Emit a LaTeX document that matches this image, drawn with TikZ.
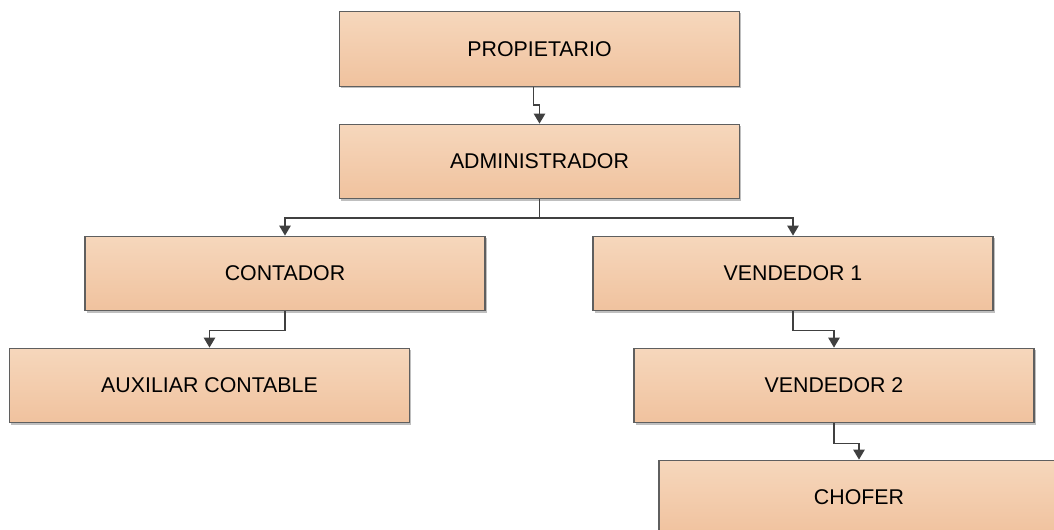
\documentclass[tikz,border=0pt]{standalone}
\usepackage{fontspec}
\setmainfont{Liberation Sans}
\usetikzlibrary{arrows.meta,shadows}

\definecolor{cajaarriba}{RGB}{246,215,188}
\definecolor{cajaabajo}{RGB}{240,194,158}
\definecolor{borde}{RGB}{95,95,95}
\definecolor{linea}{RGB}{64,64,64}

\tikzset{
  cargo/.style={draw=borde, line width=0.8pt, top color=cajaarriba, bottom color=cajaabajo,
    minimum width=300pt, minimum height=56pt, inner sep=0pt,
    font=\fontsize{16}{18}\selectfont,
    drop shadow={shadow xshift=1.3pt, shadow yshift=-1.3pt, fill=black, opacity=0.25}},
  enlace/.style={draw=linea, line width=1.2pt, -{Triangle[width=8.5pt,length=7.5pt]}}
}

\begin{document}
\begin{tikzpicture}[x=0.75pt,y=-0.75pt]

      % Marco de la figura
      \useasboundingbox (0,0) rectangle (1054,529);
      \clip (0,0) rectangle (1054,529);

      % Cargos
      \node[cargo] (prop)   at (539.5,49)    {PROPIETARIO};
      \node[cargo] (admin)  at (539.5,161.5) {ADMINISTRADOR};
      \node[cargo] (cont)   at (285,273.5)   {CONTADOR};
      \node[cargo] (vend1)  at (793,273.5)   {VENDEDOR 1};
      \node[cargo] (aux)    at (209.5,385.5) {AUXILIAR CONTABLE};
      \node[cargo] (vend2)  at (834,385.5)   {VENDEDOR 2};
      \node[cargo] (chofer) at (859,497.5)   {CHOFER};

      % Conexiones
      \draw[enlace] ([xshift=-4.5pt]prop.south) -- ++(0,18) -| (admin.north);
      \draw[enlace] (admin.south) -- ++(0,18.5) -| (cont.north);
      \draw[enlace] (admin.south) -- ++(0,18.5) -| (vend1.north);
      \draw[enlace] (cont.south) -- ++(0,19) -| (aux.north);
      \draw[enlace] (vend1.south) -- ++(0,19) -| (vend2.north);
      \draw[enlace] (vend2.south) -- ++(0,20) -| (chofer.north);

    \end{tikzpicture}
\end{document}
